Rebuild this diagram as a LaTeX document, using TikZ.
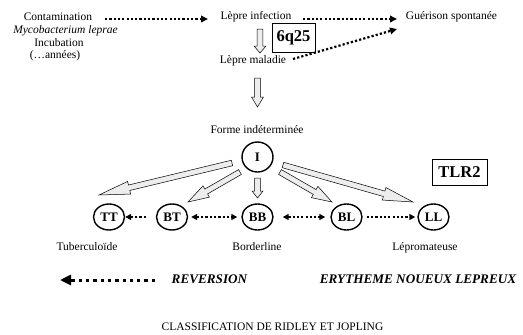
\documentclass[tikz,border=0pt]{standalone}
\usepackage{fontspec}
\setmainfont{Liberation Serif}
\usetikzlibrary{calc,arrows.meta,shapes.geometric}
\newcommand{\hollowarr}[4]{%
  \coordinate (hb) at ($(#2)!#3!(#1)$);
  \draw[hollow] ($(#1)!2.8pt!90:(#2)$) -- ($(hb)!2.8pt!90:(#2)$) -- ($(hb)!#4!90:(#2)$) -- (#2)
     -- ($(hb)!#4!-90:(#2)$) -- ($(hb)!2.8pt!-90:(#2)$) -- ($(#1)!2.8pt!-90:(#2)$) -- cycle;}
\tikzset{
  txt/.style={font=\fontsize{11.5}{13}\selectfont, inner sep=0pt, anchor=base},
  circ/.style={ellipse, draw, line width=1.4pt, minimum width=31pt, minimum height=26pt,
    inner sep=0pt, font=\fontsize{13}{13}\selectfont\bfseries},
  boxed/.style={draw, line width=0.8pt, inner sep=0pt,
    font=\fontsize{16.5}{17}\selectfont\bfseries},
  bigtxt/.style={font=\fontsize{13.2}{14}\selectfont\bfseries\itshape, inner sep=0pt, anchor=base},
  dotline/.style={line width=2.2pt, dash pattern=on 2.2pt off 2.1pt},
  tri/.tip={Triangle[length=7pt,width=6.5pt]},
  rtri/.tip={Triangle[length=6pt,width=6pt]},
  btri/.tip={Triangle[length=11pt,width=10pt]},
  hollow/.style={draw=black, line width=0.5pt, fill=gray!14, line join=miter},
}
\begin{document}
\begin{tikzpicture}[x=1pt,y=-1pt]
\useasboundingbox (0,0) rectangle (523,335);
% top texts
\node[txt] (cont) at (58,20) {Contamination};
\node[txt] (myco) at (65.5,33) {\itshape Mycobacterium leprae};
\node[txt] (incu) at (59,46) {Incubation};
\node[txt] (annees) at (55,58.5) {(\dots années)};
\node[txt] (linf) at (256,19.5) {Lèpre infection};
\node[txt] (guer) at (451.5,19.5) {Guérison spontanée};
\node[txt] (lmal) at (253,63) {Lèpre maladie};
\node[boxed, minimum width=43pt, minimum height=29pt] (q25) at (293.5,37.5) {6q25};
% top connectors
\coordinate (a1s) at (105,19); \coordinate (a1e) at (208,19);
\draw[dotline,-tri] (a1s) -- (a1e);
\coordinate (a2s) at (303,19); \coordinate (a2e) at (397,19);
\draw[dotline,-tri] (a2s) -- (a2e);
\coordinate (a3s) at (293,59); \coordinate (a3e) at (397,29);
\draw[dotline,-tri] (a3s) -- (a3e);
\coordinate (h1s) at (260,29); \coordinate (h1e) at (260,53);
\hollowarr{h1s}{h1e}{7pt}{6pt}
\coordinate (h2s) at (257.5,78); \coordinate (h2e) at (257.5,107);
\hollowarr{h2s}{h2e}{10pt}{6pt}
\node[txt] (forme) at (257,133) {Forme indéterminée};
% circles
\node[circ, minimum height=30pt] (I) at (257.5,157) {I};
\node[circ] (TT) at (109,217) {TT};
\node[circ] (BT) at (172,217) {BT};
\node[circ] (BB) at (257.5,217) {BB};
\node[circ] (BL) at (346.5,217) {BL};
\node[circ] (LL) at (433.5,217) {LL};
\node[boxed, minimum width=55pt, minimum height=26pt] (tlr) at (459.5,172) {TLR2};
% hollow arrows from I
\coordinate (tTT) at (232,163); \coordinate (eTT) at (99,195);
\hollowarr{tTT}{eTT}{31pt}{6.5pt}
\coordinate (tBT) at (240,172); \coordinate (eBT) at (188,202);
\hollowarr{tBT}{eBT}{21pt}{6.5pt}
\coordinate (tBB) at (257.5,178); \coordinate (eBB) at (257.5,198);
\hollowarr{tBB}{eBB}{7pt}{5.5pt}
\coordinate (tBL) at (280,172); \coordinate (eBL) at (332,202);
\hollowarr{tBL}{eBL}{20pt}{6.5pt}
\coordinate (tLL) at (283,165); \coordinate (eLL) at (413,202);
\hollowarr{tLL}{eLL}{30pt}{6.5pt}
% row dotted arrows
\draw[dotline,-rtri] ([xshift=-10pt]BT.west) -- (TT.east);
\draw[dotline,rtri-rtri] ([xshift=3pt]BT.east) -- ([xshift=-4pt]BB.west);
\draw[dotline,rtri-rtri] ([xshift=9pt]BB.east) -- ([xshift=-5pt]BL.west);
\draw[dotline,-rtri] ([xshift=4pt]BL.east) -- ([xshift=-2pt]LL.west);
% labels
\node[txt] (tub) at (87,250) {Tuberculoïde};
\node[txt] (bord) at (257,250) {Borderline};
\node[txt] (lepro) at (425,250) {Lépromateuse};
% bottom
\node[bigtxt] (rev) at (209.5,283) {REVERSION};
\node[bigtxt] (enl) at (418,283) {ERYTHEME NOUEUX LEPREUX};
\coordinate (rvs) at (155,280); \coordinate (rve) at (60,280);
\draw[line width=3pt, dash pattern=on 3.3pt off 4pt, -btri] (rvs) -- (rve);
\node[txt] (classif) at (272.5,330) {CLASSIFICATION DE RIDLEY ET JOPLING};
\end{tikzpicture}
\end{document}
